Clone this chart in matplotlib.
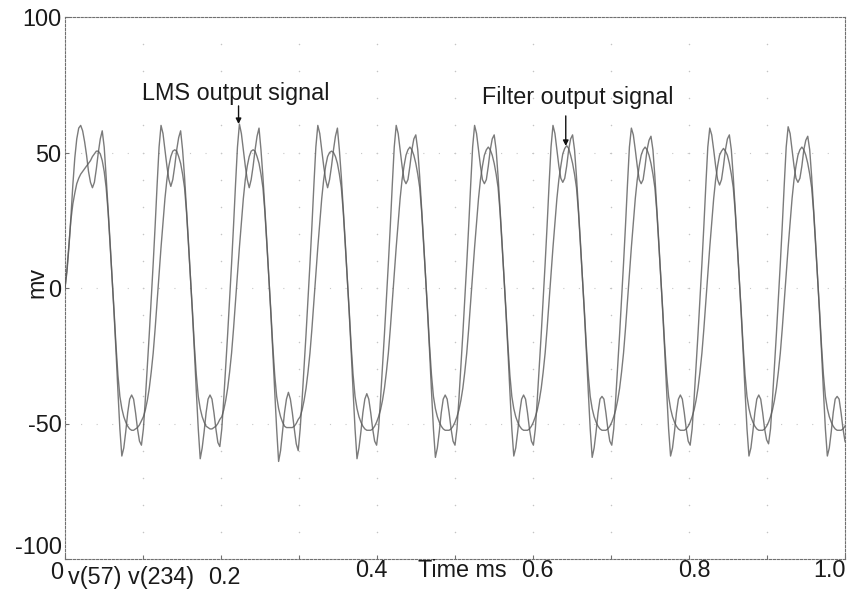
#!/usr/bin/env python3
"""
Transient plot of the LMS output v(57) and the filter output v(234)
"""

import numpy as np
import matplotlib
matplotlib.use("Agg")
import matplotlib.pyplot as plt

plt.rcParams['font.family'] = ['Liberation Sans', 'DejaVu Sans']

# sample spacing of the transient run (ms)
dt_ms = 0.0025125

# v(57): LMS output, one row per 10 kHz cycle (mV)
lms_mv = [
    [0, 6, 15, 26, 38, 48, 55, 59, 60, 58, 54, 49, 43, 39, 37, 39, 44, 50, 55, 58,
     52, 41, 29, 17, 4, -9, -23, -38, -52, -62, -59, -53, -46, -41, -39.5, -41, -46, -52, -56.5, -58],
    [-52, -41, -29, -17, -4, 9, 23, 38, 52, 60, 57, 51, 45, 40, 37.5, 40, 45, 51, 55.5, 58,
     51, 41, 29, 17, 4, -9, -23, -38, -52, -63, -59, -53, -46, -41, -39.5, -41, -46, -52, -57, -58.5],
    [-52, -41, -29, -17, -4, 9, 23, 38, 52, 60.5, 57, 51, 45, 40, 37, 40, 45, 51, 56, 59,
     51, 41, 29, 17, 4, -9, -23, -38, -52, -64, -60, -53, -46, -41, -38.5, -41, -46, -52, -57.5, -60],
    [-52, -41, -29, -17, -4, 9, 23, 38, 52, 60, 57, 51, 45, 40, 37, 40, 45, 51, 56, 59,
     51, 41, 29, 17, 4, -9, -23, -38, -52, -63, -59, -53, -46, -41, -39, -41, -46, -52, -56.5, -58],
    [-52, -41, -29, -17, -4, 9, 23, 38, 52, 60, 57, 51, 45, 40, 38.5, 40, 45, 51, 55, 56.5,
     51, 41, 29, 17, 4, -9, -23, -38, -52, -62.5, -59, -53, -46, -41, -39.5, -41, -46, -52, -56.5, -58],
    [-52, -41, -29, -17, -4, 9, 23, 38, 52, 60, 57, 51, 45, 40, 38.5, 40, 45, 51, 55, 56.5,
     51, 41, 29, 17, 4, -9, -23, -38, -52, -62, -59, -53, -46, -41, -39.5, -41, -46, -52, -56.5, -58],
    [-52, -41, -29, -17, -4, 9, 23, 38, 52, 60, 57, 51, 45, 40.5, 39, 40.5, 45, 51, 55, 56.5,
     51, 41, 29, 17, 4, -9, -23, -38, -52, -62.5, -59, -53, -46, -41, -40, -41, -46, -52, -56.5, -58],
    [-52, -41, -29, -17, -4, 9, 23, 38, 52, 59, 56.5, 51, 45, 40, 38.5, 40, 45, 51, 54.5, 56,
     51, 41, 29, 17, 4, -9, -23, -38, -52, -62, -59, -53, -46, -41, -39.5, -41, -46, -52, -56.5, -58],
    [-52, -41, -29, -17, -4, 9, 23, 38, 52, 59, 56.5, 51, 45, 40, 38, 40, 45, 51, 55, 56.5,
     51, 41, 29, 17, 4, -9, -23, -38, -52, -62, -59, -53, -46, -41, -39.5, -41, -46, -52, -56, -57.5],
    [-52, -41, -29, -17, -4, 9, 23, 38, 52, 59.5, 57, 51, 45, 40.5, 39, 40.5, 45, 51, 54.5, 56,
     51, 41, 29, 17, 4, -9, -23, -38, -52, -62, -59, -53, -46, -41, -40, -41, -46, -52, -56.5, -58],
]

# v(234): filter output, same cycles (mV)
filter_mv = [
    [0, 7, 16, 25, 31, 35, 38.5, 40.5, 42, 43, 44, 45, 46, 47, 48.5, 49.5, 50.5, 50.5, 49.5, 47,
     43, 37, 28, 16, 4, -8, -21, -32, -40, -44.5, -47.5, -49.5, -51, -52, -52.5, -52.5, -52, -51.5, -50.5, -49],
    [-47.5, -45, -41.5, -37, -31, -24, -15, -5, 5, 15, 24, 33, 40, 45, 48.5, 50.5, 51, 50.5, 48.5, 46,
     42, 37, 28, 16, 4, -8, -21, -32, -40, -44.5, -47.5, -49.5, -51, -51.5, -52, -52, -51.5, -51, -50, -48.5],
    [-47.5, -45, -41.5, -37, -31, -24, -15, -5, 5, 15, 24, 33, 40, 45, 48.5, 50.5, 51, 50.5, 48.5, 46,
     42, 37, 28, 16, 4, -8, -21, -32, -40, -44.5, -47.5, -49.5, -51, -51.5, -51.5, -51.5, -51.5, -51, -50, -48.5],
    [-47.5, -45, -41.5, -37, -31, -24, -15, -5, 5, 15, 24, 33, 40, 45, 48.5, 50, 50.5, 50, 48.5, 46,
     42, 37, 28, 16, 4, -8, -21, -32, -40, -44.5, -47.5, -49.5, -51, -52, -52.5, -52.5, -52.5, -52, -51, -49.5],
    [-47.5, -45, -41.5, -37, -31, -24, -15, -5, 5, 15, 24, 33, 40, 45, 49, 51, 52, 51, 49, 46,
     42, 37, 28, 16, 4, -8, -21, -32, -40, -44.5, -47.5, -49.5, -51, -52, -52.5, -52.5, -52.5, -52, -51, -49.5],
    [-47.5, -45, -41.5, -37, -31, -24, -15, -5, 5, 15, 24, 33, 40, 45, 49, 51, 52, 51, 49, 46,
     42, 37, 28, 16, 4, -8, -21, -32, -40, -44.5, -47.5, -49.5, -51, -52, -52.5, -52.5, -52.5, -52, -51, -49.5],
    [-47.5, -45, -41.5, -37, -31, -24, -15, -5, 5, 15, 24, 33, 40, 45, 49.5, 51.5, 52.5, 51.5, 49, 46,
     42, 37, 28, 16, 4, -8, -21, -32, -40, -44.5, -47.5, -49.5, -51, -52, -52.5, -52.5, -52.5, -52, -51, -49.5],
    [-47.5, -45, -41.5, -37, -31, -24, -15, -5, 5, 15, 24, 33, 40, 45, 49, 51, 52, 51, 49, 46,
     42, 37, 28, 16, 4, -8, -21, -32, -40, -44.5, -47.5, -49.5, -51, -52, -52.5, -52.5, -52.5, -52, -51, -49.5],
    [-47.5, -45, -41.5, -37, -31, -24, -15, -5, 5, 15, 24, 33, 40, 45, 49, 50.5, 51.5, 50.5, 49, 46,
     42, 37, 28, 16, 4, -8, -21, -32, -40, -44.5, -47.5, -49.5, -51, -52, -52.5, -52.5, -52.5, -52, -51, -49.5],
    [-47.5, -45, -41.5, -37, -31, -24, -15, -5, 5, 15, 24, 33, 40, 45, 49, 51, 52, 51, 49, 46,
     42, 37, 28, 16, 4, -8, -21, -32, -40, -44.5, -47.5, -49.5, -51, -52, -52.5, -52.5, -52.5, -52, -51, -49.5],
]

ytick_vals = [-100, -50, 0, 50, 100]
ytick_labels = ['-100', '-50', '0', '50', '100']

# labels along the time axis: text, x (ms), alignment, y (axes fraction)
bottom_texts = ['0', 'v(57) v(234)', '0.2', '0.4', 'Time ms', '0.6', '0.8', '1.0']
bottom_x = [-0.002, 0.004, 0.204, 0.393, 0.452, 0.606, 0.8075, 1.001]
bottom_ha = ['right', 'left', 'center', 'center', 'left', 'center', 'center', 'right']
bottom_y = [-0.024, -0.035, -0.035, -0.021, -0.021, -0.021, -0.021, -0.021]

lms = np.concatenate(lms_mv)
filt = np.concatenate(filter_mv)
t = np.arange(len(lms)) * dt_ms

fig = plt.figure(figsize=(8.48, 5.93), dpi=100)
ax = fig.add_axes([65 / 848, 1 - 559 / 593, 780 / 848, 542 / 593])

# faint dot grid
gx, gy = np.meshgrid(np.arange(1, 10) * 0.1, np.arange(-9, 10) * 10)
ax.scatter(gx.ravel(), gy.ravel(), s=1.2, color='#c4c4c4', lw=0, zorder=1)
for y in (-50, 0, 50):
    ax.axhline(y, color='#c8c8c8', lw=0.8, ls=(0, (1, 13)), zorder=1)

ax.plot(t, lms, color='#5a5a5a', lw=1.0, alpha=0.8, zorder=3)
ax.plot(t, filt, color='#5a5a5a', lw=1.0, alpha=0.8, zorder=3)

ax.set_xlim(0, 1.0)
ax.set_ylim(-100, 100)

for s in ax.spines.values():
    s.set_linestyle((0, (2, 1.5)))
    s.set_color('#707070')
    s.set_linewidth(0.8)

ax.set_xticks(np.arange(0, 11) * 0.1)
ax.set_xticklabels([])
ax.set_yticks(ytick_vals)
ax.set_yticklabels(ytick_labels)
ax.tick_params(direction='in', length=3, color='#707070', labelsize=16.8,
               labelcolor='#1a1a1a', pad=2.5)
ax.get_yticklabels()[0].set_va('bottom')

for txt, x, ha, y in zip(bottom_texts, bottom_x, bottom_ha, bottom_y):
    ax.text(x, y, txt, transform=ax.get_xaxis_transform(), ha=ha, va='center',
            fontsize=16.8, color='#1a1a1a')

ax.text(-0.036, 0.511, 'mv', transform=ax.transAxes, rotation=90,
        ha='center', va='center', fontsize=16.8, color='#1a1a1a')

# callouts for the two traces
arrow = dict(arrowstyle='-|>', color='#111111', lw=1.0, mutation_scale=8,
             shrinkA=0, shrinkB=0)
ax.annotate('', xy=(0.2225, 60.5), xytext=(0.2225, 67.2), arrowprops=arrow)
ax.text(0.219, 69.4, 'LMS output signal', ha='center', va='baseline',
        fontsize=16.8, color='#1a1a1a')
ax.annotate('', xy=(0.642, 52.4), xytext=(0.642, 63.5), arrowprops=arrow)
ax.text(0.658, 67.9, 'Filter output signal', ha='center', va='baseline',
        fontsize=16.8, color='#1a1a1a')

fig.savefig('out.png', dpi=100)
